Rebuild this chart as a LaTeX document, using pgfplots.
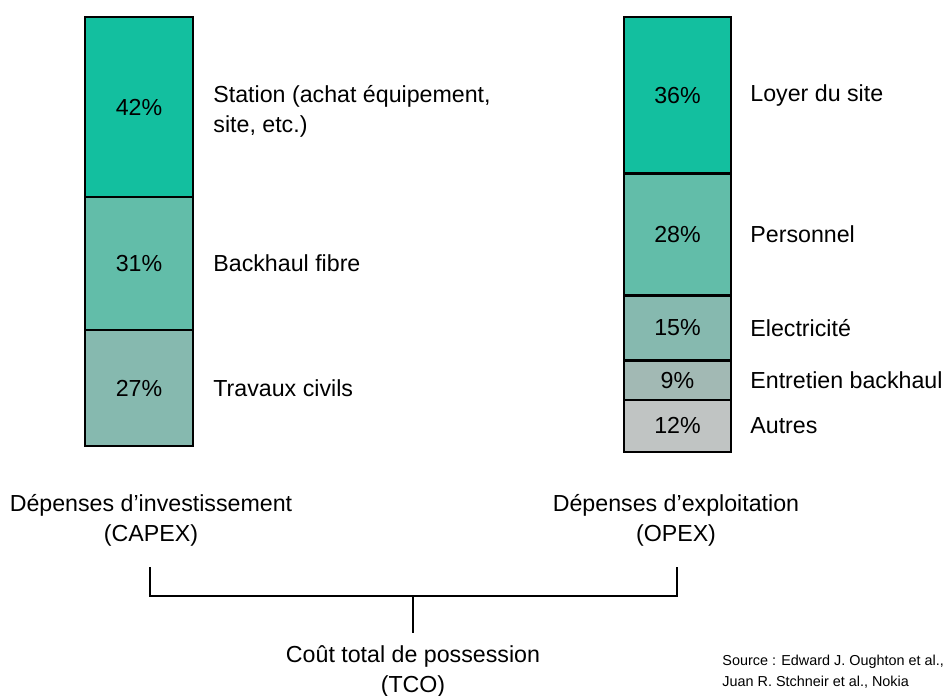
\documentclass[border=0pt]{standalone}
\usepackage{pgfplots}
\pgfplotsset{compat=1.18}
\usetikzlibrary{calc}
\usepackage{fontspec}
\setmainfont{Liberation Sans}
\definecolor{c1}{HTML}{13BF9F}
\definecolor{c2}{HTML}{62BDA9}
\definecolor{c3}{HTML}{86B9AF}
\definecolor{c4}{HTML}{A2B9B4}
\definecolor{c5}{HTML}{C0C4C3}
\begin{document}
\begin{tikzpicture}[x=0.5pt, y=-0.5pt,
  lbl/.style={font=\fontsize{11.6}{15}\selectfont, inner sep=0pt}]
\useasboundingbox (0,0) rectangle (946,695);
\pgfplotsset{segs/.style={hide axis, scale only axis, ybar stacked,
  xmin=0, xmax=1, ymin=0, ymax=100, anchor=north west, clip=false,
  every axis plot/.append style={draw=black, line width=1.3pt}}}

% CAPEX
\begin{axis}[segs, name=capex, at={(42.5pt,-8.5pt)}, width=54pt, height=214.5pt, bar width=54pt]
\addplot[fill=c3] coordinates {(0.5,27)};
\addplot[fill=c2] coordinates {(0.5,31)};
\addplot[fill=c1] coordinates {(0.5,42)};
\node[lbl, anchor=west, align=left, xshift=10pt] at (axis cs:1,78) {Station (achat équipement,\\site, etc.)};
\node[lbl, anchor=west, xshift=10pt] at (axis cs:1,42.5) {Backhaul fibre};
\node[lbl, anchor=west, xshift=10pt] at (axis cs:1,13.5) {Travaux civils};
\end{axis}
\foreach \v/\f in {27/0.135, 31/0.425, 42/0.79}
  \node[lbl] at ($(capex.south)!\f!(capex.north)$) {\v\%};

% OPEX
\begin{axis}[segs, name=opex, at={(312pt,-8.5pt)}, width=53.5pt, height=217.5pt, bar width=53.5pt]
\addplot[fill=c5] coordinates {(0.5,12)};
\addplot[fill=c4] coordinates {(0.5,9)};
\addplot[fill=c3] coordinates {(0.5,15)};
\addplot[fill=c2] coordinates {(0.5,28)};
\addplot[fill=c1] coordinates {(0.5,36)};
\node[lbl, anchor=west, xshift=9.5pt] at (axis cs:1,82) {Loyer du site};
\node[lbl, anchor=west, xshift=9.5pt] at (axis cs:1,50) {Personnel};
\node[lbl, anchor=west, xshift=9.5pt] at (axis cs:1,28.5) {Electricité};
\node[lbl, anchor=west, xshift=9.5pt] at (axis cs:1,16.5) {Entretien backhaul};
\node[lbl, anchor=west, xshift=9.5pt] at (axis cs:1,6) {Autres};
\end{axis}
\foreach \v/\f in {12/0.06, 9/0.165, 15/0.285, 28/0.50, 36/0.82}
  \node[lbl] at ($(opex.south)!\f!(opex.north)$) {\v\%};

\node[lbl, align=center] at (151,520) {Dépenses d’investissement\\(CAPEX)};
\node[lbl, align=center] at (676,520) {Dépenses d’exploitation\\(OPEX)};
\draw[line width=1.3pt] (150,567) -- (150,596) -- (677,596) -- (677,567);
\draw[line width=1.3pt] (413,596) -- (413,633);
\node[lbl, align=center] at (413,671) {Coût total de possession\\(TCO)};
\node[font=\fontsize{7.2}{10.5}\selectfont, align=left, anchor=west, inner sep=0pt] at (722,672)
  {Source : Edward J. Oughton et al.,\\Juan R. Stchneir et al., Nokia};
\end{tikzpicture}
\end{document}
